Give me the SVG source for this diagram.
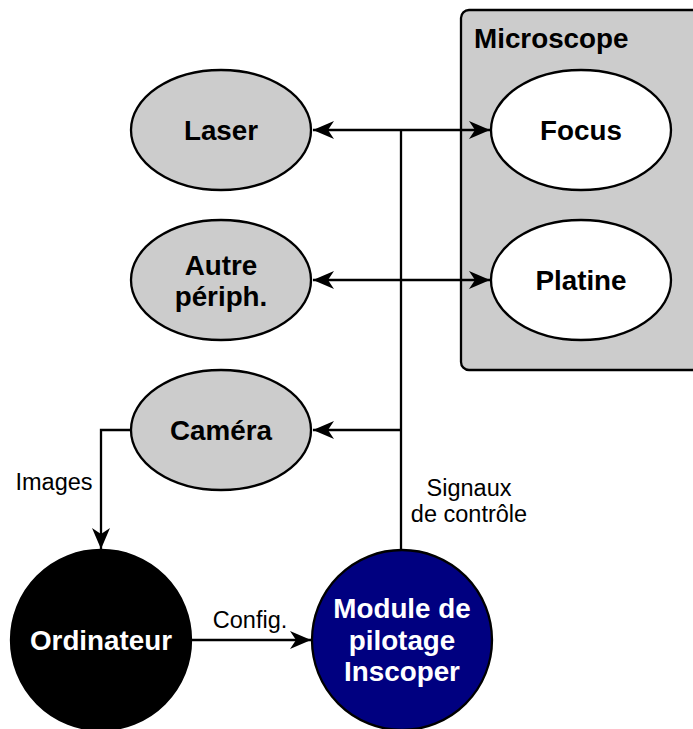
<svg xmlns="http://www.w3.org/2000/svg" width="693" height="729" viewBox="0 0 693 729">
<style>
.n{stroke:#000;stroke-width:2.3}
.g{fill:#cccccc}
.b{font-family:"Liberation Sans",Arial,sans-serif;font-weight:bold;font-size:27.8px;text-anchor:middle;fill:#000}
.w{fill:#fff}
.l{font-family:"Liberation Sans",Arial,sans-serif;font-size:23.5px;fill:#000;text-anchor:middle}
.c{fill:none;stroke:#000;stroke-width:2.3}
</style>
<defs>
<marker id="arr" markerUnits="userSpaceOnUse" markerWidth="24" markerHeight="22" viewBox="0 0 24 22" refX="22" refY="11" orient="auto-start-reverse">
<path d="M1,2 L22,11 L1,20 L7,11 Z" fill="#000"/>
</marker>
</defs>
<g id="microscope">
<rect x="461" y="10" width="250" height="360" rx="8" ry="8" class="n g"/>
<text x="474" y="48" class="b" style="text-anchor:start">Microscope</text>
</g>
<g id="connectors">
<line x1="401" y1="550" x2="401" y2="130" class="c"/>
<line x1="313" y1="130" x2="490" y2="130" class="c" marker-start="url(#arr)" marker-end="url(#arr)"/>
<line x1="313" y1="280" x2="490" y2="280" class="c" marker-start="url(#arr)" marker-end="url(#arr)"/>
<line x1="401" y1="430" x2="313" y2="430" class="c" marker-end="url(#arr)"/>
<polyline points="132,430 101,430 101,549" class="c" marker-end="url(#arr)"/>
<line x1="192" y1="640" x2="311" y2="640" class="c" marker-end="url(#arr)"/>
<text x="54" y="490" class="l">Images</text>
<text x="250" y="628" class="l">Config.</text>
<text x="469" y="496" class="l">Signaux</text>
<text x="469" y="522" class="l">de contrôle</text>
</g>
<g id="focus">
<ellipse cx="581" cy="130" rx="90" ry="60" class="n w"/>
<text x="581" y="140" class="b">Focus</text>
</g>
<g id="platine">
<ellipse cx="581" cy="280" rx="90" ry="60" class="n w"/>
<text x="581" y="290" class="b">Platine</text>
</g>
<g id="laser">
<ellipse cx="221" cy="130" rx="90" ry="60" class="n g"/>
<text x="221" y="140" class="b">Laser</text>
</g>
<g id="autre">
<ellipse cx="221" cy="280" rx="90" ry="60" class="n g"/>
<text x="221" y="275" class="b">Autre</text>
<text x="221" y="306" class="b">périph.</text>
</g>
<g id="camera">
<ellipse cx="221" cy="430" rx="90" ry="60" class="n g"/>
<text x="221" y="440" class="b">Caméra</text>
</g>
<g id="ordinateur">
<circle cx="101" cy="640" r="90" class="n" fill="#000"/>
<text x="101" y="650" class="b" style="fill:#fff">Ordinateur</text>
</g>
<g id="module">
<circle cx="402" cy="640" r="90" class="n" fill="#000080"/>
<text x="402" y="618" class="b" style="fill:#fff">Module de</text>
<text x="402" y="649.5" class="b" style="fill:#fff">pilotage</text>
<text x="402" y="681" class="b" style="fill:#fff">Inscoper</text>
</g>
</svg>
